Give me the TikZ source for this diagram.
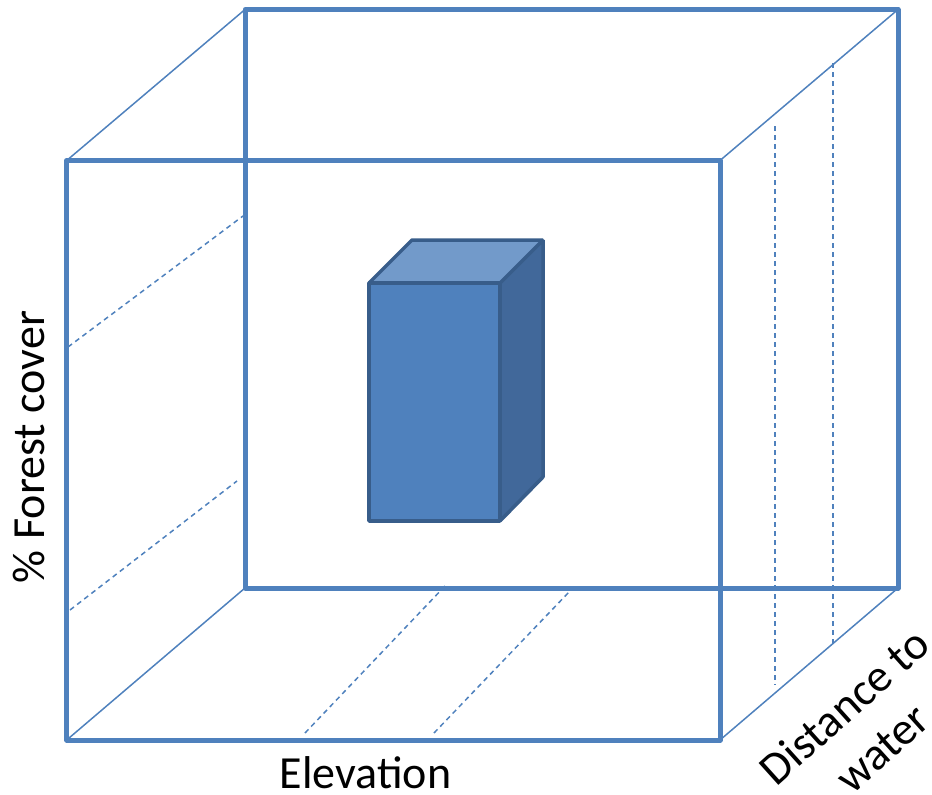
\documentclass[tikz,border=0pt]{standalone}
\usepackage{fontspec}
\setmainfont{Carlito}
\definecolor{frameblue}{HTML}{4F81BD}
\definecolor{boxfront}{HTML}{4F81BD}
\definecolor{boxtop}{HTML}{729ACA}
\definecolor{boxside}{HTML}{41689A}
\definecolor{boxedge}{HTML}{385D8A}
\tikzset{
  frameline/.style={draw=frameblue, line width=5pt, line join=round},
  thinline/.style={draw=frameblue, line width=1.5pt},
  gridline/.style={draw=frameblue, line width=1.5pt, dash pattern=on 5pt off 4pt},
  boxface/.style={draw=boxedge, line width=3.5pt, line join=bevel},
  axislabel/.style={font=\fontsize{46}{56}\selectfont, text=black, inner sep=0pt}
}
\begin{document}
\begin{tikzpicture}[x=1pt,y=-1pt]
\useasboundingbox (0,0) rectangle (932,795);
% corners of the front square
\coordinate (FTL) at (66.7,160.5);
\coordinate (FTR) at (720,160.5);
\coordinate (FBL) at (66.7,740);
\coordinate (FBR) at (720,740);
% corners of the back square
\coordinate (BTL) at (245,9.5);
\coordinate (BTR) at (898,9.5);
\coordinate (BBL) at (245,588);
\coordinate (BBR) at (898,588);
% receding edges
\draw[thinline] (FTL) -- (BTL);
\draw[thinline] (FTR) -- (BTR);
\draw[thinline] (FBL) -- (BBL);
\draw[thinline] (FBR) -- (BBR);
% dashed grid lines
\coordinate (L1a) at (68,347);  \coordinate (L1b) at (243,216);
\coordinate (L2a) at (70,610);  \coordinate (L2b) at (237,481);
\coordinate (B1a) at (305,733); \coordinate (B1b) at (445,586);
\coordinate (B2a) at (434,733); \coordinate (B2b) at (570,591);
\coordinate (R1a) at (775,126); \coordinate (R1b) at (775,685);
\coordinate (R2a) at (833,63);  \coordinate (R2b) at (833,647);
\draw[gridline] (L1a) -- (L1b);
\draw[gridline] (L2a) -- (L2b);
\draw[gridline] (B1a) -- (B1b);
\draw[gridline] (B2a) -- (B2b);
\draw[gridline] (R1a) -- (R1b);
\draw[gridline] (R2a) -- (R2b);
% back and front squares
\draw[frameline] (BTL) -- (BTR) -- (BBR) -- (BBL) -- cycle;
\draw[frameline] (FTL) -- (FTR) -- (FBR) -- (FBL) -- cycle;
% the block
\coordinate (KFTL) at (369,283);
\coordinate (KFTR) at (500,283);
\coordinate (KFBL) at (369,521);
\coordinate (KFBR) at (500,521);
\coordinate (KBTL) at (412,240);
\coordinate (KBTR) at (543,240);
\coordinate (KBBR) at (543,477);
\filldraw[boxface, fill=boxside] (KFTR) -- (KBTR) -- (KBBR) -- (KFBR) -- cycle;
\filldraw[boxface, fill=boxtop] (KFTL) -- (KBTL) -- (KBTR) -- (KFTR) -- cycle;
\filldraw[boxface, fill=boxfront] (KFTL) -- (KFTR) -- (KFBR) -- (KFBL) -- cycle;
% labels
\node[axislabel, anchor=base, rotate=90] (forest) at (44,447) {\% Forest cover};
\node[axislabel, anchor=base] (elev) at (365.5,788) {Elevation};
\node[axislabel, align=center, rotate=42] (dist) at (863,727) {Distance to\\water};
\end{tikzpicture}
\end{document}
